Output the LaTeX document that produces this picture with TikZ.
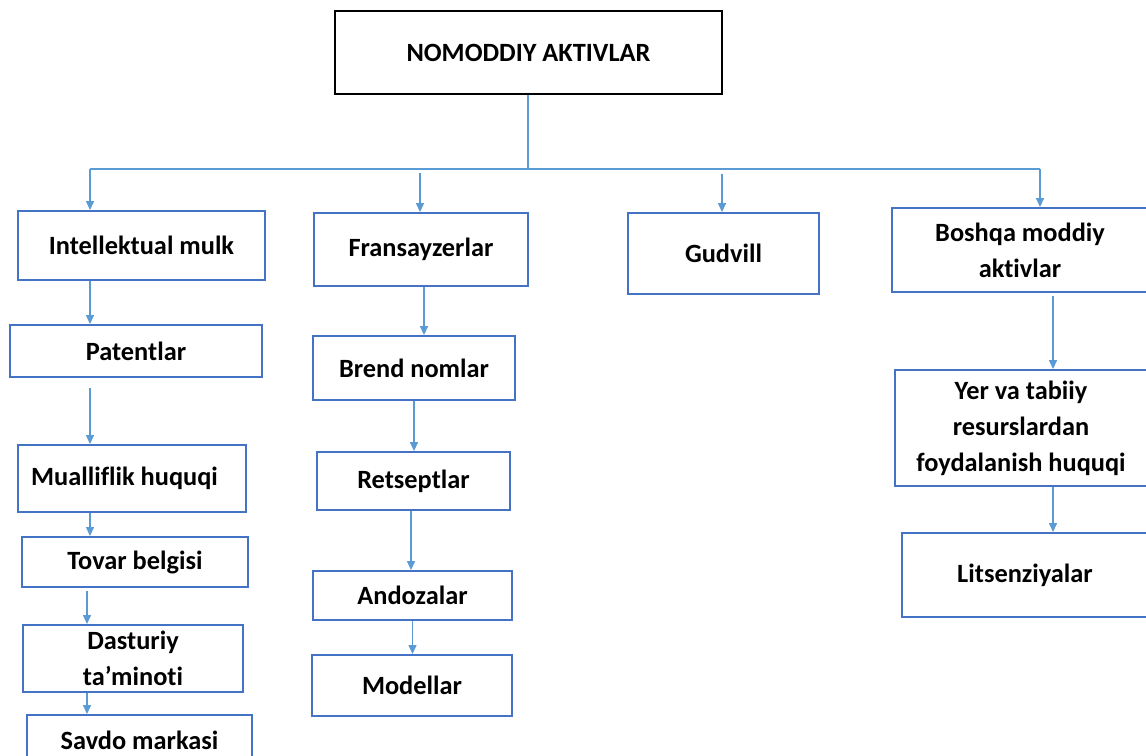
\documentclass[tikz,border=0pt]{standalone}
\usepackage{fontspec}
\setmainfont{Carlito}[Ligatures={NoCommon}]
\usetikzlibrary{arrows.meta}
\definecolor{boxblue}{RGB}{68,114,196}
\definecolor{linkblue}{RGB}{91,155,213}

\begin{document}
\begin{tikzpicture}[x=0.02cm, y=-0.02cm,
    font=\bfseries\fontsize{15}{20.4}\selectfont,
    box/.style={draw=boxblue, line width=1.1pt, align=center, inner sep=0pt},
    link/.style={draw=linkblue, line width=0.8pt},
    arr/.style={link, -{Triangle[length=0.18cm, width=0.16cm]}}]
        \useasboundingbox (0,0) rectangle (1146,756);
        \clip (0,0) rectangle (1146,756);

        \node [box, draw=black, minimum width=7.74cm, minimum height=1.66cm] (top) at (528.5, 52.5) {NOMODDIY AKTIVLAR};

        % bus under the top box
        \coordinate (hub) at (528, 169);
        \coordinate (b1) at (90, 169);
        \coordinate (b2) at (420, 169);
        \coordinate (b3) at (722, 169);
        \coordinate (b4) at (1040, 169);

        % first column
        \node [box, minimum width=4.94cm, minimum height=1.38cm] (intel) at (141.5, 245.5) {Intellektual mulk};
        \node [box, minimum width=5.04cm, minimum height=1.04cm] (patent) at (136, 351) {Patentlar};
        \node [box, minimum width=4.56cm, minimum height=1.34cm] (muall) at (132, 478.5) {Mualliflik huquqi\hspace*{0.3cm}};
        \node [box, minimum width=4.52cm, minimum height=1.00cm] (tovar) at (135, 562) {Tovar belgisi};
        \node [box, minimum width=4.40cm, minimum height=1.34cm] (dastur) at (133, 658.5) {Dasturiy\\ta’minoti};
        \node [box, minimum width=4.50cm, minimum height=1.00cm] (savdo) at (139.5, 740) {Savdo markasi};

        % second column
        \node [box, minimum width=4.28cm, minimum height=1.46cm] (frans) at (421, 249.5) {Fransayzerlar};
        \node [box, minimum width=4.04cm, minimum height=1.28cm] (brend) at (414, 368) {Brend nomlar};
        \node [box, minimum width=3.86cm, minimum height=1.16cm] (retsept) at (413.5, 481) {Retseptlar};
        \node [box, minimum width=3.98cm, minimum height=0.98cm] (andoza) at (412.5, 595.5) {Andozalar};
        \node [box, minimum width=4.00cm, minimum height=1.22cm] (model) at (412, 685.5) {Modellar};

        % third and fourth column
        \node [box, minimum width=3.82cm, minimum height=1.62cm] (gudvill) at (723.5, 253.5) {Gudvill};
        \node [box, minimum width=5.12cm, minimum height=1.68cm] (boshqa) at (1020, 250) {Boshqa moddiy\\aktivlar};
        \node [box, minimum width=5.04cm, minimum height=2.32cm] (yer) at (1021, 428) {Yer va tabiiy\\resurslardan\\foydalanish huquqi};
        \node [box, minimum width=4.92cm, minimum height=1.68cm] (litsen) at (1025, 575) {Litsenziyalar};

        \draw [link] (top.south -| hub) -- (hub);
        \draw [link] (b1) -- (b4);
        \draw [arr] (b1) -- (b1 |- intel.north);
        \draw [arr, shorten <=0.08cm] (b2) -- (b2 |- frans.north);
        \draw [arr, shorten <=0.1cm] (b3) -- (b3 |- gudvill.north);
        \draw [arr] (b4) -- (b4 |- boshqa.north);

        \draw [arr] (b1 |- intel.south) -- (b1 |- patent.north);
        \draw [arr, shorten <=0.2cm] (b1 |- patent.south) -- (b1 |- muall.north);
        \draw [arr] (b1 |- muall.south) -- (b1 |- tovar.north);
        \draw [arr, shorten <=0.06cm] (87,0 |- tovar.south) -- (87,0 |- dastur.north);
        \draw [arr] (87,0 |- dastur.south) -- (87,0 |- savdo.north);

        \draw [arr] (424,0 |- frans.south) -- (424,0 |- brend.north);
        \draw [arr] (brend.south) -- (brend.south |- retsept.north);
        \draw [arr] (411,0 |- retsept.south) -- (411,0 |- andoza.north);
        \draw [arr] (andoza.south) -- (andoza.south |- model.north);

        \draw [arr, shorten <=0.06cm] (1053,0 |- boshqa.south) -- (1053,0 |- yer.north);
        \draw [arr] (1053,0 |- yer.south) -- (1053,0 |- litsen.north);
\end{tikzpicture}
\end{document}
